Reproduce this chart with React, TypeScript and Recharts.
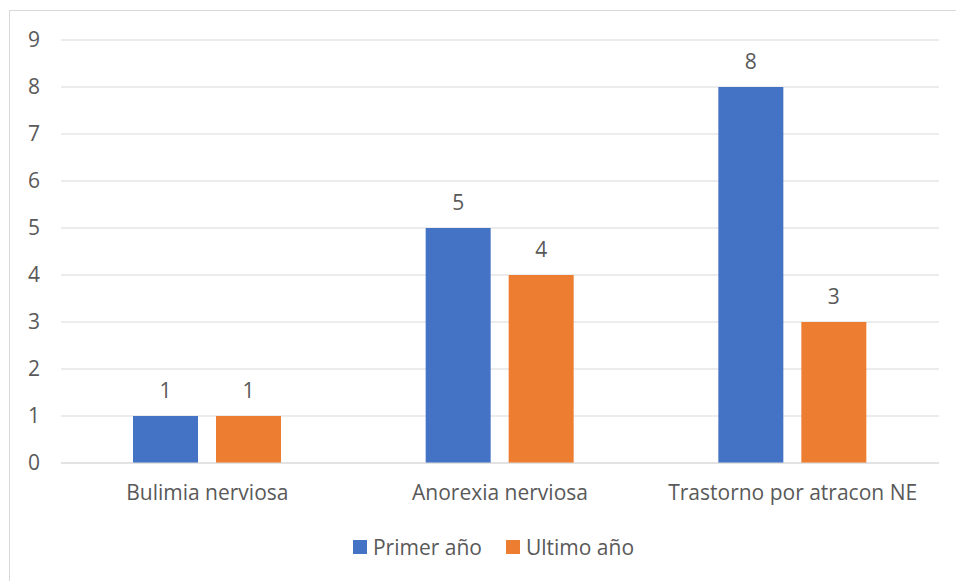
import { Bar, BarChart, CartesianGrid, LabelList, Legend, XAxis, YAxis } from 'recharts'

const categories = ['Bulimia nerviosa', 'Anorexia nerviosa', 'Trastorno por atracon NE']
const primerAno = [1, 5, 8]
const ultimoAno = [1, 4, 3]
const yTicks = [0, 1, 2, 3, 4, 5, 6, 7, 8, 9]

const data = categories.map((name, i) => ({
  name,
  primer: primerAno[i],
  ultimo: ultimoAno[i],
}))

const TEXT = '#595959'
const FONT = '"Open Sans", sans-serif'
const SIZE = 21

type LegendItem = { value?: string; color?: string }

function LegendContent({ payload }: { payload?: LegendItem[] }) {
  return (
    <div
      style={{
        display: 'flex',
        justifyContent: 'center',
        alignItems: 'center',
        height: 24,
        gap: 24,
        paddingLeft: 38,
        fontFamily: FONT,
        fontSize: SIZE,
        color: TEXT,
      }}
    >
      {(payload ?? []).map((item) => (
        <div key={item.value} style={{ display: 'flex', alignItems: 'center' }}>
          <span style={{ width: 14, height: 14, background: item.color, marginRight: 6 }} />
          <span>{item.value}</span>
        </div>
      ))}
    </div>
  )
}

export default function App() {
  return (
    <div
      style={{
        position: 'fixed',
        left: 9,
        top: 10,
        borderTop: '1px solid #d9d9d9',
        borderLeft: '1px solid #d9d9d9',
        background: '#fff',
      }}
    >
      <BarChart
        width={946}
        height={570}
        data={data}
        margin={{ top: 29, right: 17, bottom: 22, left: 0 }}
        barSize={65}
        barGap={18}
        style={{ fontFamily: FONT }}
      >
        <CartesianGrid vertical={false} stroke="#d9d9d9" />
        <XAxis
          dataKey="name"
          height={72}
          tickSize={0}
          tickMargin={22}
          tickLine={false}
          axisLine={{ stroke: '#d9d9d9' }}
          tick={{ fill: TEXT, fontSize: SIZE }}
          interval={0}
        />
        <YAxis
          width={51}
          domain={[0, 9]}
          ticks={yTicks}
          tickSize={0}
          tickMargin={21}
          tickLine={false}
          axisLine={false}
          tick={{ fill: TEXT, fontSize: SIZE }}
        />
        <Legend verticalAlign="bottom" content={<LegendContent />} />
        <Bar dataKey="primer" name="Primer año" fill="#4472c4" isAnimationActive={false}>
          <LabelList dataKey="primer" position="top" offset={18} fill={TEXT} fontSize={SIZE} />
        </Bar>
        <Bar dataKey="ultimo" name="Ultimo año" fill="#ed7d31" isAnimationActive={false}>
          <LabelList dataKey="ultimo" position="top" offset={18} fill={TEXT} fontSize={SIZE} />
        </Bar>
      </BarChart>
    </div>
  )
}
